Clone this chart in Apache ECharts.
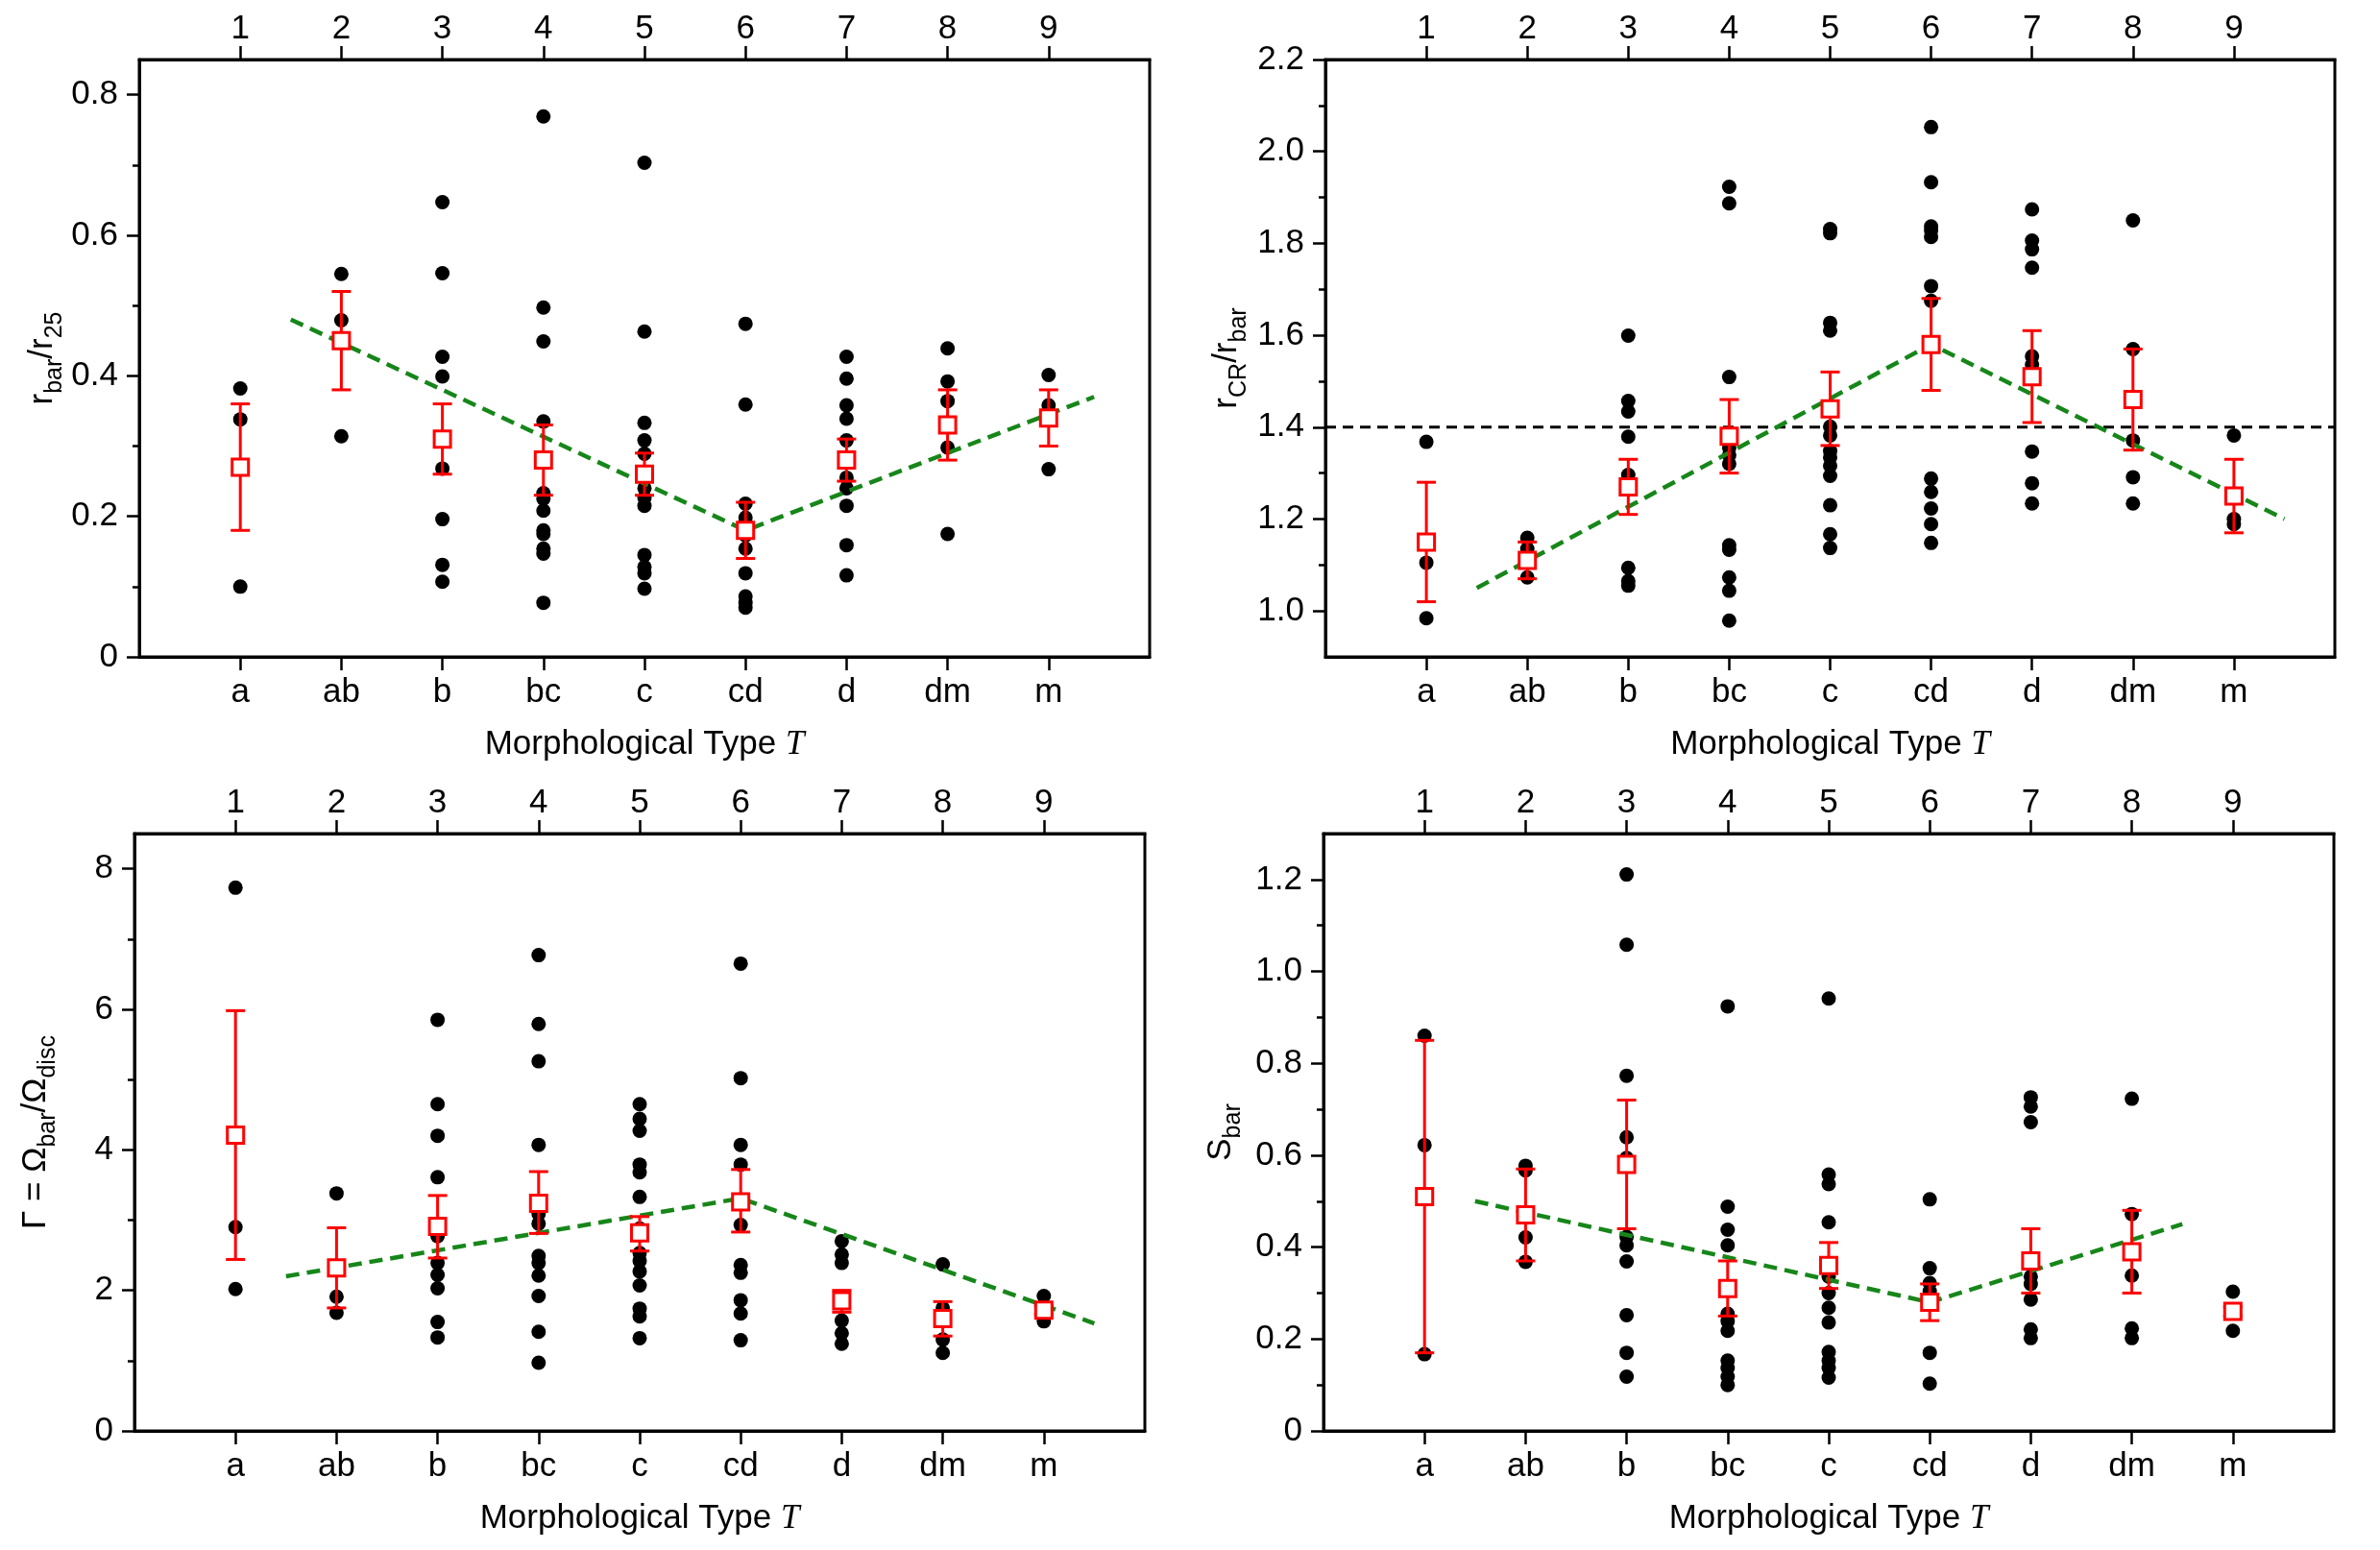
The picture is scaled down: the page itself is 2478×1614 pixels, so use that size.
<!DOCTYPE html>
<html>
<head>
<meta charset="utf-8">
<script src="https://cdn.jsdelivr.net/npm/echarts@6/dist/echarts.min.js"></script>
<style>
  html, body { margin: 0; padding: 0; background: #fff; }
  #chart { width: 2478px; height: 1614px; }
</style>
</head>
<body>
<div id="chart"></div>
<script>
// morphological types (bottom axis) and T values (top axis)
const types = ['a', 'ab', 'b', 'bc', 'c', 'cd', 'd', 'dm', 'm'];
const typeNums = [1, 2, 3, 4, 5, 6, 7, 8, 9];

// r_bar / r_25
const rbarPts = [
  [0.382, 0.338, 0.100],
  [0.545, 0.479, 0.314],
  [0.647, 0.546, 0.427, 0.399, 0.268, 0.196, 0.131, 0.107],
  [0.769, 0.497, 0.449, 0.335, 0.233, 0.225, 0.208, 0.180, 0.175, 0.154, 0.147, 0.077],
  [0.703, 0.463, 0.333, 0.308, 0.289, 0.240, 0.226, 0.215, 0.145, 0.128, 0.119, 0.097],
  [0.474, 0.359, 0.218, 0.198, 0.191, 0.173, 0.154, 0.119, 0.086, 0.077, 0.070],
  [0.427, 0.396, 0.358, 0.339, 0.308, 0.255, 0.240, 0.215, 0.159, 0.116],
  [0.439, 0.392, 0.364, 0.298, 0.175],
  [0.401, 0.358, 0.267]
];
const rbarMean = [0.27, 0.45, 0.31, 0.28, 0.26, 0.18, 0.28, 0.33, 0.34];
const rbarLo = [0.18, 0.38, 0.26, 0.23, 0.23, 0.14, 0.25, 0.28, 0.30];
const rbarHi = [0.36, 0.52, 0.36, 0.33, 0.29, 0.22, 0.31, 0.38, 0.38];
const rbarFit = [[1.5, 0.48], [6, 0.18], [9.45, 0.37]];

// r_CR / r_bar
const rcrPts = [
  [1.368, 1.105, 0.984],
  [1.159, 1.135, 1.114, 1.073],
  [1.599, 1.457, 1.434, 1.379, 1.296, 1.094, 1.065, 1.055],
  [1.923, 1.887, 1.509, 1.355, 1.339, 1.320, 1.143, 1.133, 1.073, 1.044, 0.979],
  [1.831, 1.822, 1.627, 1.610, 1.401, 1.382, 1.348, 1.334, 1.316, 1.294, 1.230, 1.167, 1.137],
  [2.053, 1.933, 1.837, 1.828, 1.814, 1.707, 1.675, 1.288, 1.259, 1.223, 1.189, 1.148],
  [1.874, 1.806, 1.787, 1.747, 1.554, 1.536, 1.347, 1.278, 1.234],
  [1.850, 1.570, 1.371, 1.291, 1.234],
  [1.382, 1.200, 1.189]
];
const rcrMean = [1.15, 1.11, 1.27, 1.38, 1.44, 1.58, 1.51, 1.46, 1.25];
const rcrLo = [1.02, 1.07, 1.21, 1.30, 1.36, 1.48, 1.41, 1.35, 1.17];
const rcrHi = [1.28, 1.15, 1.33, 1.46, 1.52, 1.68, 1.61, 1.57, 1.33];
const rcrFit = [[1.5, 1.05], [6, 1.58], [9.5, 1.2]];
const rcrLimit = [[0, 1.4], [10, 1.4]];

// Gamma = Omega_bar / Omega_disc
const gamPts = [
  [7.73, 2.90, 2.02],
  [3.38, 1.91, 1.68],
  [5.85, 4.65, 4.20, 3.61, 2.77, 2.39, 2.22, 2.03, 1.55, 1.33],
  [6.77, 5.79, 5.26, 4.07, 3.09, 2.95, 2.49, 2.39, 2.21, 1.92, 1.41, 0.97],
  [4.65, 4.44, 4.27, 3.79, 3.68, 3.33, 2.88, 2.53, 2.42, 2.27, 2.07, 1.74, 1.63, 1.32],
  [6.65, 5.02, 4.07, 3.79, 2.93, 2.36, 2.25, 1.86, 1.67, 1.29],
  [2.70, 2.51, 2.39, 1.57, 1.39, 1.24],
  [2.37, 1.75, 1.61, 1.30, 1.11],
  [1.92, 1.56]
];
const gamMean = [4.21, 2.32, 2.91, 3.24, 2.82, 3.26, 1.85, 1.60, 1.72];
const gamLo = [2.44, 1.75, 2.46, 2.81, 2.56, 2.83, 1.69, 1.35, 1.66];
const gamHi = [5.98, 2.89, 3.35, 3.69, 3.05, 3.72, 2.00, 1.84, 1.78];
const gamFit = [[1.5, 2.2], [6, 3.31], [9.5, 1.53]];

// S_bar
const sbarPts = [
  [0.860, 0.622, 0.167],
  [0.577, 0.567, 0.421, 0.368],
  [1.211, 1.058, 0.773, 0.639, 0.594, 0.422, 0.404, 0.369, 0.252, 0.170, 0.118],
  [0.924, 0.488, 0.438, 0.404, 0.255, 0.239, 0.218, 0.153, 0.137, 0.118, 0.100],
  [0.941, 0.558, 0.537, 0.454, 0.336, 0.300, 0.268, 0.236, 0.172, 0.153, 0.137, 0.116],
  [0.504, 0.354, 0.322, 0.304, 0.170, 0.103],
  [0.726, 0.706, 0.672, 0.336, 0.320, 0.286, 0.221, 0.202],
  [0.723, 0.472, 0.338, 0.223, 0.202],
  [0.303, 0.218]
];
const sbarMean = [0.51, 0.47, 0.58, 0.31, 0.36, 0.28, 0.37, 0.39, 0.26];
const sbarLo = [0.17, 0.37, 0.44, 0.25, 0.31, 0.24, 0.30, 0.30, 0.25];
const sbarHi = [0.85, 0.57, 0.72, 0.37, 0.41, 0.32, 0.44, 0.48, 0.27];
const sbarFit = [[1.5, 0.50], [6, 0.28], [8.5, 0.45]];

const FONT = '"Liberation Sans", Arial, Helvetica, sans-serif';
const RED = '#ff0000';
const GREEN = '#17861a';

const nameRich = {
  m: { fontSize: 35, lineHeight: 38, verticalAlign: 'top', color: '#000', fontFamily: FONT },
  s: { fontSize: 25, lineHeight: 25, padding: [18, 0, 0, 0], verticalAlign: 'top', color: '#000', fontFamily: FONT },
  i: { fontSize: 35, lineHeight: 38, verticalAlign: 'top', color: '#000', fontStyle: 'italic', fontFamily: '"Liberation Serif", "DejaVu Serif", serif' }
};

const panels = [
  { grid: { left: 145, top: 62, width: 1052, height: 622 }, pts: rbarPts, mean: rbarMean, lo: rbarLo, hi: rbarHi, fit: rbarFit,
    min: 0, max: 0.85, major: [0, 0.2, 0.4, 0.6, 0.8], minor: [0.1, 0.3, 0.5, 0.7],
    fmt: v => v === 0 ? '0' : v.toFixed(1), name: '{m|r}{s|bar}{m|/r}{s|25}', gap: 80 },
  { grid: { left: 1380, top: 62, width: 1051, height: 622 }, pts: rcrPts, mean: rcrMean, lo: rcrLo, hi: rcrHi, fit: rcrFit,
    min: 0.9, max: 2.2, major: [1.0, 1.2, 1.4, 1.6, 1.8, 2.0, 2.2], minor: [1.1, 1.3, 1.5, 1.7, 1.9, 2.1],
    fmt: v => v.toFixed(1), name: '{m|r}{s|CR}{m|/r}{s|bar}', limit: rcrLimit, gap: 82 },
  { grid: { left: 140, top: 868, width: 1052, height: 622 }, pts: gamPts, mean: gamMean, lo: gamLo, hi: gamHi, fit: gamFit,
    min: 0, max: 8.5, major: [0, 2, 4, 6, 8], minor: [1, 3, 5, 7],
    fmt: v => String(v), name: '{m|Γ = Ω}{s|bar}{m|/Ω}{s|disc}', gap: 82 },
  { grid: { left: 1378, top: 868, width: 1052, height: 622 }, pts: sbarPts, mean: sbarMean, lo: sbarLo, hi: sbarHi, fit: sbarFit,
    min: 0, max: 1.3, major: [0, 0.2, 0.4, 0.6, 0.8, 1.0, 1.2], minor: [0.1, 0.3, 0.5, 0.7, 0.9, 1.1],
    fmt: v => v === 0 ? '0' : v.toFixed(1), name: '{m|S}{s|bar}', gap: 86 }
];

const grids = [], xAxes = [], yAxes = [], series = [];
const tickLine = { color: '#000', width: 2.5 };

panels.forEach((p, k) => {
  grids.push(Object.assign({ show: true, borderColor: '#000', borderWidth: 3, backgroundColor: '#fff' }, p.grid));

  // bottom axis: morphological type letters
  xAxes.push({
    type: 'value', gridIndex: k, position: 'bottom', min: 0, max: 10,
    axisLine: { show: true, onZero: false, lineStyle: { color: '#000', width: 3 } },
    axisTick: { show: true, customValues: typeNums, length: 14, lineStyle: tickLine },
    axisLabel: { customValues: typeNums, formatter: v => types[Math.round(v) - 1], fontSize: 35, color: '#000', margin: 20, fontFamily: FONT },
    splitLine: { show: false },
    name: '{m|Morphological Type }{i|T}', nameLocation: 'middle', nameGap: 74,
    nameTextStyle: { rich: nameRich }
  });
  // top axis: numeric T
  xAxes.push({
    type: 'value', gridIndex: k, position: 'top', min: 0, max: 10,
    axisLine: { show: true, onZero: false, lineStyle: { color: '#000', width: 3 } },
    axisTick: { show: true, customValues: typeNums, length: 14, lineStyle: tickLine },
    axisLabel: { customValues: typeNums, formatter: v => String(Math.round(v)), fontSize: 35, color: '#000', margin: 14, fontFamily: FONT },
    splitLine: { show: false }
  });
  // left axis, major ticks + labels
  yAxes.push({
    type: 'value', gridIndex: k, position: 'left', min: p.min, max: p.max,
    axisLine: { show: true, onZero: false, lineStyle: { color: '#000', width: 3 } },
    axisTick: { show: true, customValues: p.major, length: 13, lineStyle: tickLine },
    axisLabel: { customValues: p.major, formatter: p.fmt, fontSize: 35, color: '#000', margin: 22, fontFamily: FONT },
    splitLine: { show: false },
    name: p.name, nameLocation: 'middle', nameRotate: 90, nameGap: p.gap,
    nameTextStyle: { rich: nameRich }
  });
  // left axis, minor ticks only
  yAxes.push({
    type: 'value', gridIndex: k, position: 'left', min: p.min, max: p.max,
    axisLine: { show: false },
    axisTick: { show: true, customValues: p.minor, length: 7, lineStyle: tickLine },
    axisLabel: { show: false },
    splitLine: { show: false }
  });

  const xi = 2 * k, yi = 2 * k;
  const dots = [];
  p.pts.forEach((vals, i) => vals.forEach(v => dots.push([typeNums[i], v])));
  series.push({
    type: 'scatter', xAxisIndex: xi, yAxisIndex: yi, data: dots, symbolSize: 15,
    itemStyle: { color: '#000', opacity: 1 }, z: 2
  });
  if (p.limit) {
    series.push({
      type: 'line', xAxisIndex: xi, yAxisIndex: yi, data: p.limit, symbol: 'none',
      lineStyle: { color: '#000', width: 3, type: [11, 7] }, z: 3
    });
  }
  series.push({
    type: 'line', xAxisIndex: xi, yAxisIndex: yi, data: p.fit, symbol: 'none',
    lineStyle: { color: GREEN, width: 4.5, type: [14, 8] }, z: 3
  });
  series.push({
    type: 'custom', xAxisIndex: xi, yAxisIndex: yi, z: 4,
    data: typeNums.map((t, i) => [t, p.lo[i], p.hi[i]]),
    encode: { x: 0, y: [1, 2] },
    renderItem(params, api) {
      const t = api.value(0);
      const a = api.coord([t, api.value(1)]);
      const b = api.coord([t, api.value(2)]);
      const w = 10;
      const style = { stroke: RED, lineWidth: 3 };
      return {
        type: 'group', children: [
          { type: 'line', shape: { x1: a[0], y1: a[1], x2: b[0], y2: b[1] }, style },
          { type: 'line', shape: { x1: a[0] - w, y1: a[1], x2: a[0] + w, y2: a[1] }, style },
          { type: 'line', shape: { x1: b[0] - w, y1: b[1], x2: b[0] + w, y2: b[1] }, style }
        ]
      };
    }
  });
  series.push({
    type: 'scatter', xAxisIndex: xi, yAxisIndex: yi, z: 5,
    data: typeNums.map((t, i) => [t, p.mean[i]]), symbol: 'rect', symbolSize: 17,
    itemStyle: { color: '#fff', borderColor: RED, borderWidth: 3, opacity: 1 }
  });
});

const chart = echarts.init(document.getElementById('chart'), null, { renderer: 'canvas' });
chart.setOption({
  animation: false,
  backgroundColor: '#fff',
  textStyle: { fontFamily: FONT },
  grid: grids,
  xAxis: xAxes,
  yAxis: yAxes,
  series
});
window.addEventListener('resize', () => chart.resize());
</script>
</body>
</html>
